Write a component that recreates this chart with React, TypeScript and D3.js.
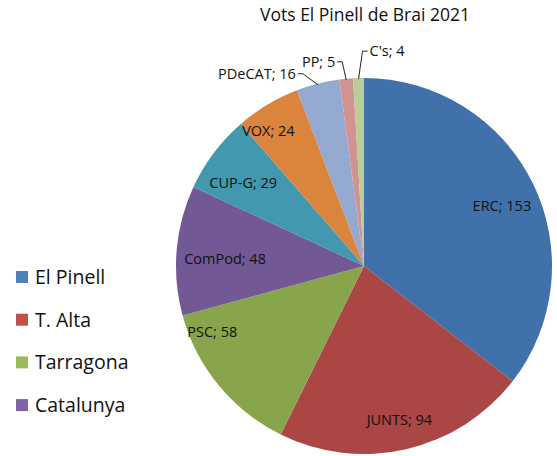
import React from "react";
import * as d3 from "d3";

const title = "Vots El Pinell de Brai 2021";
const parties = ["ERC", "JUNTS", "PSC", "ComPod", "CUP-G", "VOX", "PDeCAT", "PP", "C's"];
const votes = [153, 94, 58, 48, 29, 24, 16, 5, 4];
const sliceColors = ["#4071AA", "#AA4644", "#89A54C", "#725894", "#4298AF", "#DB843D", "#93A9D0", "#D19392", "#B9CD96"];
const legendLabels = ["El Pinell", "T. Alta", "Tarragona", "Catalunya"];
const legendColors = ["#4F81BD", "#C0504D", "#9BBB59", "#8064A2"];

// label placement (layout): inside labels use [radius fraction, position along arc]
const insideLabel: Record<string, [number, number]> = {
  ERC: [0.8, 0.52],
  JUNTS: [0.84, 0.5],
  PSC: [0.88, 0.83],
  ComPod: [0.74, 0.45],
  "CUP-G": [0.78, 0.4],
  VOX: [0.88, 0.28],
};
// outside labels: text offset from arc point, anchor
const outsideLabel: Record<string, [number, number, "start" | "end"]> = {
  PDeCAT: [-22, -10, "end"],
  PP: [-11, -17, "end"],
  "C's": [11, -27, "start"],
};

export default function App() {
  const W = 557, H = 456;
  const cx = 364, cy = 266, R = 188;
  const font = "'Open Sans', sans-serif";
  const pie = d3.pie<number>().sort(null).value((d) => d);
  const arcs = pie(votes);
  const arcGen = d3.arc<d3.PieArcDatum<number>>().innerRadius(0).outerRadius(R);

  return (
    <svg width={W} height={H} style={{ position: "absolute", left: 0, top: 0, background: "#fff" }} fontFamily={font}>
      <text x={365} y={21} textAnchor="middle" fontSize={17.5} fill="#111">{title}</text>
      <g transform={`translate(${cx},${cy})`}>
        {arcs.map((a, i) => (
          <path key={i} d={arcGen(a) || ""} fill={sliceColors[i]} />
        ))}
        {arcs.map((a, i) => {
          const name = parties[i];
          const label = `${name}; ${votes[i]}`;
          if (insideLabel[name]) {
            const [rf, pos] = insideLabel[name];
            const ang = a.startAngle + (a.endAngle - a.startAngle) * pos;
            const x = Math.sin(ang) * R * rf;
            const y = -Math.cos(ang) * R * rf;
            return (
              <text key={"l" + i} x={x} y={y} dy="0.35em" textAnchor="middle" fontSize={14.5} fill="#111">{label}</text>
            );
          }
          const [dx, dy, anchor] = outsideLabel[name];
          const mid = (a.startAngle + a.endAngle) / 2;
          const px = Math.sin(mid) * R;
          const py = -Math.cos(mid) * R;
          const tx = px + dx;
          const ty = py + dy;
          const dir = anchor === "end" ? 1 : -1;
          const x0 = tx + dir * 2;
          const x1 = tx + dir * 7;
          return (
            <g key={"l" + i}>
              <polyline points={`${x0},${ty} ${x1},${ty} ${px},${py + 1}`} fill="none" stroke="#222" strokeWidth={1} />
              <text x={tx} y={ty} dy="0.35em" textAnchor={anchor} fontSize={14.5} fill="#111">{label}</text>
            </g>
          );
        })}
      </g>
      <g>
        {legendLabels.map((l, i) => (
          <g key={l} transform={`translate(16,${277 + i * 42.7})`}>
            <rect x={0} y={-6} width={12} height={12} fill={legendColors[i]} />
            <text x={19} y={0} dy="0.36em" fontSize={19.5} fill="#111">{l}</text>
          </g>
        ))}
      </g>
    </svg>
  );
}
